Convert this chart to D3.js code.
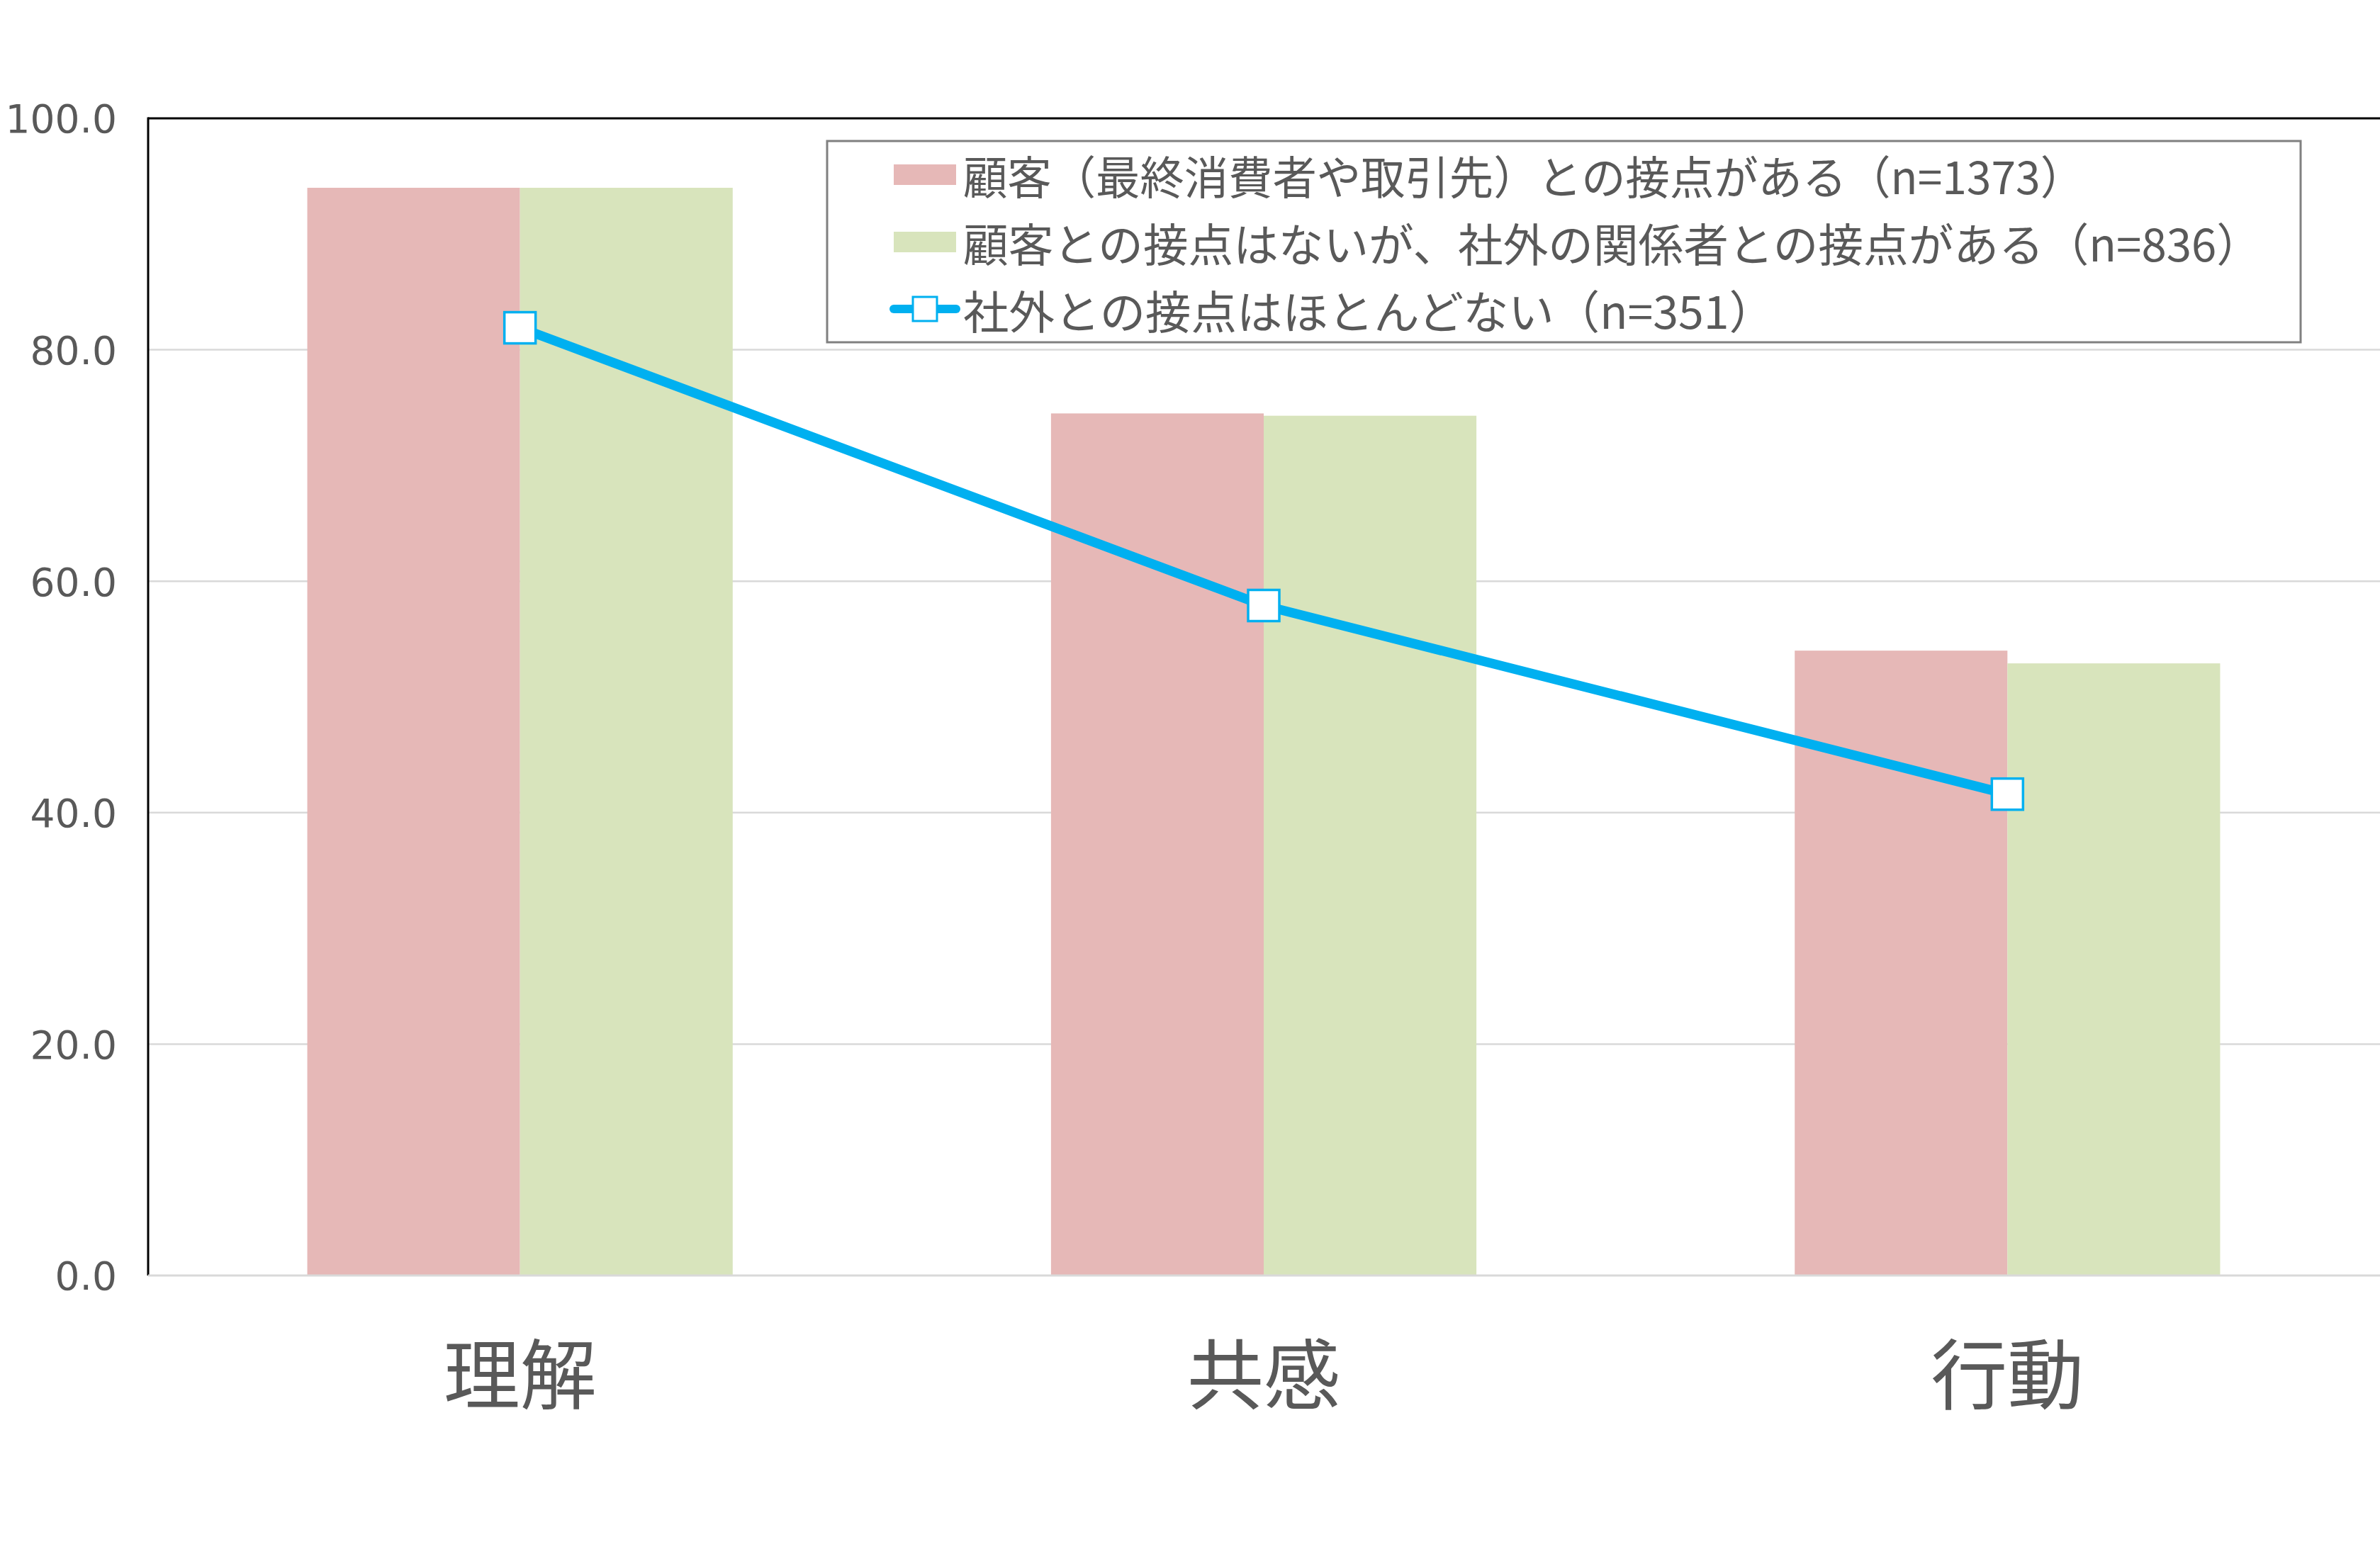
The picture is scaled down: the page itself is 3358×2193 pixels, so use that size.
<!DOCTYPE html>
<html>
<head>
<meta charset="utf-8">
<script src="https://cdn.jsdelivr.net/npm/d3@7"></script>
<style>
  html, body { margin: 0; padding: 0; background: #ffffff; }
  svg { display: block; }
</style>
</head>
<body>
<script>
// ---- data ----
const categories = ["理解", "共感", "行動"];
const seriesNames = [
  "顧客（最終消費者や取引先）との接点がある（n=1373）",
  "顧客との接点はないが、社外の関係者との接点がある（n=836）",
  "社外との接点はほとんどない（n=351）"
];
const customerValues = [94.0, 74.5, 54.0];
const externalValues = [94.0, 74.3, 52.9];
const noContactValues = [81.9, 57.9, 41.6];
const yTicks = [0, 20, 40, 60, 80, 100];
const legendWidths = [1582, 1832, 1145];

// ---- layout ----
const W = 3358, H = 2193;
const plot = { left: 209, right: 3357, top: 167, bottom: 1800 };
const colors = { pink: "#E6B8B7", green: "#D8E4BC", line: "#00B0F0", text: "#595959", grid: "#D9D9D9" };

const svg = d3.select("body").append("svg").attr("width", W).attr("height", H);
svg.append("rect").attr("width", W).attr("height", H).attr("fill", "#fff");

const x = d3.scaleBand().domain(categories).range([plot.left, plot.right])
  .paddingInner(0.428).paddingOuter(0.214);
const xs = d3.scaleBand().domain([0, 1]).range([0, x.bandwidth()]).padding(0);
const y = d3.scaleLinear().domain([0, 100]).range([plot.bottom, plot.top]);

// gridlines
svg.append("g").selectAll("line").data(yTicks.filter(t => t > 0 && t < 100)).join("line")
  .attr("x1", plot.left).attr("x2", plot.right + 5)
  .attr("y1", d => y(d)).attr("y2", d => y(d))
  .attr("stroke", colors.grid).attr("stroke-width", 2.5);

// y axis labels
const yAxis = d3.axisLeft(y).tickValues(yTicks).tickFormat(d3.format(".1f")).tickSize(0).tickPadding(44);
const yg = svg.append("g").attr("transform", `translate(${plot.left},0)`).call(yAxis);
yg.select(".domain").remove();
yg.selectAll("text").attr("font-family", "DejaVu Sans").attr("font-size", 55)
  .attr("fill", colors.text).attr("dy", "0.36em");

// bars
const bars = svg.append("g");
const seriesBars = [customerValues, externalValues];
const barColors = [colors.pink, colors.green];
seriesBars.forEach((vals, si) => {
  bars.append("g").selectAll("rect").data(vals).join("rect")
    .attr("x", (d, i) => x(categories[i]) + xs(si))
    .attr("width", xs.bandwidth())
    .attr("y", d => y(d))
    .attr("height", d => y(0) - y(d))
    .attr("fill", barColors[si]);
});

// plot border (top/left black) and bottom axis
svg.append("line").attr("x1", plot.left).attr("x2", W + 5).attr("y1", plot.top).attr("y2", plot.top)
  .attr("stroke", "#000").attr("stroke-width", 3);
svg.append("line").attr("x1", plot.left).attr("x2", plot.left).attr("y1", plot.top - 1.5).attr("y2", plot.bottom)
  .attr("stroke", "#000").attr("stroke-width", 3);
svg.append("line").attr("x1", plot.left).attr("x2", W + 5).attr("y1", y(0)).attr("y2", y(0))
  .attr("stroke", colors.grid).attr("stroke-width", 3);

// line series
const cx = (d, i) => x(categories[i]) + x.bandwidth() / 2;
const lineGen = d3.line().x(cx).y(d => y(d));
svg.append("path").datum(noContactValues).attr("d", lineGen)
  .attr("fill", "none").attr("stroke", colors.line).attr("stroke-width", 13.5)
  .attr("stroke-linejoin", "round");
const mk = 44;
svg.append("g").selectAll("rect").data(noContactValues).join("rect")
  .attr("x", (d, i) => cx(d, i) - mk / 2).attr("y", d => y(d) - mk / 2)
  .attr("width", mk).attr("height", mk)
  .attr("fill", "#fff").attr("stroke", colors.line).attr("stroke-width", 3.5);

// x category labels
svg.append("g").selectAll("text").data(categories).join("text")
  .attr("x", d => x(d) + x.bandwidth() / 2).attr("y", 1933)
  .attr("text-anchor", "middle").attr("dominant-baseline", "central")
  .attr("font-family", "Noto Sans CJK JP").attr("font-size", 108)
  .attr("fill", colors.text).text(d => d);

// legend
const lg = svg.append("g");
lg.append("rect").attr("x", 1167).attr("y", 199).attr("width", 2079).attr("height", 284)
  .attr("fill", "#fff").attr("stroke", "#808080").attr("stroke-width", 3);
const rowY = [246, 341, 436];
const textX = 1359;
lg.append("rect").attr("x", 1261).attr("y", rowY[0] - 14).attr("width", 88).attr("height", 29).attr("fill", colors.pink);
lg.append("rect").attr("x", 1261).attr("y", rowY[1] - 14).attr("width", 88).attr("height", 29).attr("fill", colors.green);
lg.append("line").attr("x1", 1261).attr("x2", 1349).attr("y1", rowY[2]).attr("y2", rowY[2])
  .attr("stroke", colors.line).attr("stroke-width", 12).attr("stroke-linecap", "round");
lg.append("rect").attr("x", 1305 - 17).attr("y", rowY[2] - 17).attr("width", 34).attr("height", 34)
  .attr("fill", "#fff").attr("stroke", colors.line).attr("stroke-width", 3);
lg.selectAll("text.leg").data(seriesNames).join("text").attr("class", "leg")
  .attr("x", textX).attr("y", (d, i) => rowY[i])
  .attr("dominant-baseline", "central")
  .attr("font-family", "Noto Sans CJK JP").attr("font-size", 64)
  .attr("fill", colors.text)
  .attr("textLength", (d, i) => legendWidths[i]).attr("lengthAdjust", "spacingAndGlyphs")
  .text(d => d);
</script>
</body>
</html>
